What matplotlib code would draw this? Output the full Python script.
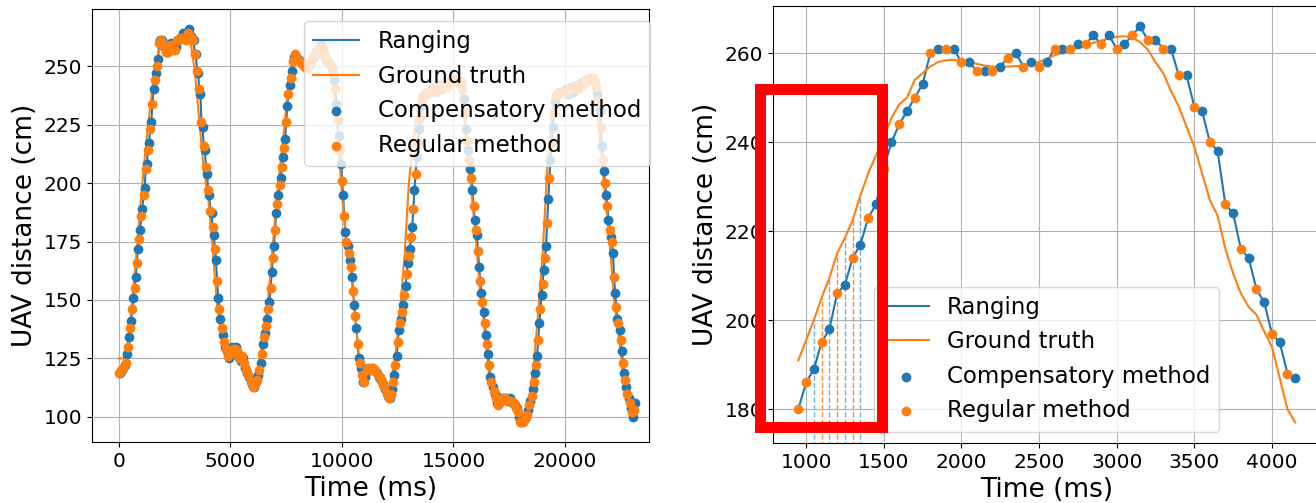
import matplotlib.pyplot as plt
import numpy as np
from matplotlib.patches import Rectangle

# whole flight, ranging sampled every 50 ms (one row = 1 s)
left_time = np.arange(0, 23200, 50)
left_ranging = [
    119, 119, 120, 120, 121, 122, 123, 127, 130, 134, 138, 141, 146, 151, 155, 160, 166, 172, 176, 180,
    186, 189, 195, 198, 206, 208, 214, 217, 223, 226, 234, 240, 244, 247, 250, 253, 260, 261, 261, 261,
    258, 258, 256, 256, 256, 257, 259, 260, 257, 258, 257, 258, 261, 261, 261, 262, 262, 264, 262, 264,
    261, 262, 264, 266, 263, 263, 261, 261, 255, 255, 248, 247, 240, 238, 226, 224, 216, 214, 207, 204,
    197, 195, 188, 187, 181, 178, 172, 167, 158, 151, 146, 142, 138, 135, 132, 130, 129, 128, 126, 125,
    127, 130, 129, 128, 129, 130, 128, 126, 125, 124, 126, 125, 123, 121, 120, 119, 118, 117, 115, 114,
    113, 113, 114, 115, 116, 118, 120, 123, 127, 131, 134, 136, 139, 142, 146, 149, 155, 162, 168, 173,
    180, 187, 191, 195, 199, 202, 207, 211, 215, 219, 226, 233, 238, 242, 245, 248, 252, 254, 255, 254,
    253, 253, 252, 252, 251, 251, 250, 250, 249, 249, 250, 251, 252, 253, 254, 254, 255, 256, 257, 257,
    258, 259, 258, 257, 255, 254, 253, 252, 251, 251, 250, 249, 247, 244, 240, 234, 227, 220, 214, 208,
    201, 195, 186, 179, 175, 173, 170, 167, 164, 160, 154, 148, 143, 138, 131, 125, 123, 121, 118, 115,
    115, 117, 120, 121, 121, 120, 120, 121, 121, 120, 120, 119, 118, 117, 117, 116, 115, 114, 113, 112,
    110, 109, 108, 108, 110, 112, 115, 118, 122, 126, 132, 137, 140, 142, 145, 148, 152, 156, 161, 166,
    169, 172, 177, 181, 189, 197, 204, 211, 217, 223, 228, 233, 235, 237, 238, 238, 238, 239, 239, 239,
    239, 240, 241, 240, 239, 240, 241, 242, 241, 240, 241, 242, 243, 242, 241, 242, 243, 244, 243, 243,
    244, 244, 244, 244, 244, 243, 243, 243, 240, 236, 230, 223, 218, 214, 210, 206, 202, 197, 190, 184,
    180, 178, 171, 164, 158, 153, 149, 145, 140, 135, 131, 127, 122, 117, 115, 113, 111, 110, 108, 106,
    105, 106, 107, 108, 108, 108, 108, 108, 107, 107, 107, 108, 107, 106, 106, 105, 104, 104, 102, 100,
    98, 98, 98, 99, 99, 100, 101, 103, 105, 107, 109, 112, 115, 119, 122, 126, 133, 140, 146, 152,
    157, 163, 168, 173, 183, 193, 202, 210, 217, 224, 230, 235, 237, 238, 238, 239, 239, 239, 239, 239,
    239, 240, 239, 238, 240, 241, 240, 239, 240, 241, 242, 241, 240, 241, 242, 243, 242, 243, 244, 244,
    244, 244, 244, 245, 245, 245, 244, 243, 241, 238, 235, 231, 224, 216, 210, 205, 200, 195, 190, 184,
    180, 177, 175, 170, 160, 153, 147, 142, 140, 137, 133, 128, 123, 119, 116, 113, 110, 108, 106, 104,
    102, 100, 103, 106,
]
left_truth_time = np.arange(0, 23001, 200)
left_truth = [
    125, 125, 132, 150, 172, 195, 215, 233, 248, 257,
    258, 257, 257, 259, 262, 264, 261, 248, 227, 206,
    194, 172, 148, 135, 128, 126, 128, 125, 122, 118,
    116, 119, 130, 142, 162, 185, 205, 222, 243, 254,
    254, 252, 250, 252, 255, 258, 255, 251, 245, 222,
    195, 175, 163, 142, 122, 118, 121, 120, 117, 114,
    110, 114, 127, 145, 168, 200, 218, 232, 238, 239,
    240, 240, 241, 241, 242, 243, 244, 236, 214, 197,
    176, 153, 137, 117, 110, 106, 108, 108, 107, 104,
    99, 100, 108, 122, 145, 170, 205, 230, 238, 239,
    239, 240, 240, 241, 243, 244, 245, 238, 214, 195,
    175, 150, 136, 118, 106, 101,
]
# samples alternate between the two methods
left_method = ['R', 'C'] * 232

# close-up of the first climb: 950 ms .. 4150 ms
right_time = left_time[19:84]
right_ranging = left_ranging[19:84]
right_truth = [
    191, 195.5, 200, 205, 209.5, 215, 218.5, 222.5, 228, 233,
    237, 241, 245.5, 248.5, 250, 254, 255.5, 257, 258, 258.4,
    258.5, 258.4, 258, 257.6, 257.2, 257, 256.9, 257, 257.1, 257.1,
    257.5, 258, 258.7, 259.5, 260.1, 260.6, 261.2, 261.7, 262.3, 262.8,
    263.3, 263.7, 263.8, 263.5, 262.5, 260.8, 258, 255.5, 251.5, 248,
    243.5, 239, 233, 227, 223.5, 216, 210.5, 206, 203, 201.2,
    197.5, 194, 187, 180, 177,
]
right_method = ['R'] + left_method[20:84]
marked_time = [1050, 1100, 1150, 1200, 1250, 1300, 1350]


def draw(ax, t, r, gt_t, gt, method):
    t = np.asarray(t)
    r = np.asarray(r)
    m = np.asarray(method)
    ax.plot(t, r, color='C0', lw=1.5, label='Ranging')
    ax.plot(gt_t, gt, color='C1', lw=1.5, label='Ground truth')
    ax.scatter(t[m == 'C'], r[m == 'C'], color='C0', s=36, zorder=3,
               label='Compensatory method')
    ax.scatter(t[m == 'R'], r[m == 'R'], color='C1', s=36, zorder=3,
               label='Regular method')
    ax.grid(True)
    ax.tick_params(labelsize=14.5)
    ax.set_xlabel('Time (ms)', fontsize=19)
    ax.set_ylabel('UAV distance (cm)', fontsize=19)


fig = plt.figure(figsize=(13.16, 5.03), dpi=100)
ax1 = fig.add_axes([0.0699, 0.1213, 0.4233, 0.8608])
ax2 = fig.add_axes([0.5874, 0.1193, 0.4157, 0.8688])

draw(ax1, left_time, left_ranging, left_truth_time, left_truth, left_method)
ax1.set_xlim(-1210, 23770)
ax1.set_ylim(89.3, 274.4)
ax1.set_xticks([0, 5000, 10000, 15000, 20000])
ax1.legend(fontsize=16.5, loc='upper right', bbox_to_anchor=(1.002, 0.972),
           borderaxespad=0)

draw(ax2, right_time, right_ranging, right_time, right_truth, right_method)
ax2.set_xlim(787, 4310)
ax2.set_ylim(172.4, 270.6)
ax2.set_xticks([1000, 1500, 2000, 2500, 3000, 3500, 4000])

# dashed drop lines under the first few samples
for tm in marked_time:
    i = list(right_time).index(tm)
    if right_method[i] == 'C':
        ax2.vlines(tm, 160, right_truth[i], colors='C0', alpha=0.6,
                   linestyles='--', lw=1, zorder=1)
    else:
        ax2.vlines(tm, 160, right_truth[i], colors='C1', alpha=0.9,
                   linestyles='--', lw=1, zorder=1)
ax2.legend(fontsize=16.5, loc='lower center')

W, H = 1316, 503
fig.add_artist(Rectangle((759.5 / W, 76.5 / H), 122 / W, 338 / H,
                         transform=fig.transFigure, fill=False,
                         edgecolor='red', lw=7.9))

fig.savefig('out.png', dpi=100)
